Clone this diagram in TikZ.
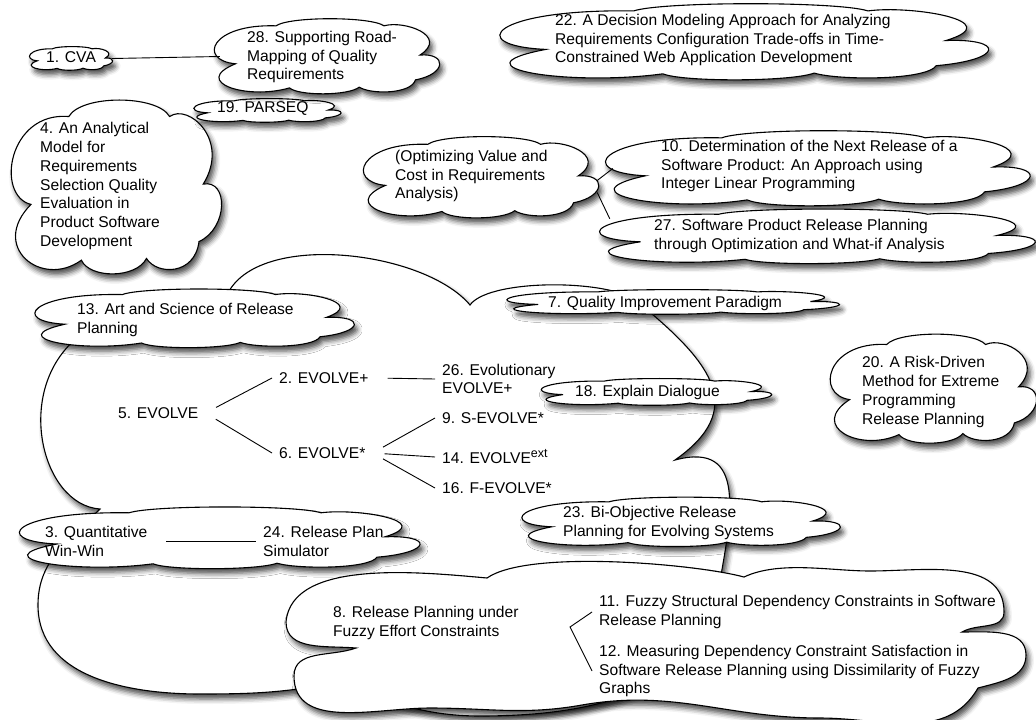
\documentclass[tikz,border=0pt]{standalone}
\usepackage{fontspec}
\setmainfont{Liberation Sans}
\usetikzlibrary{shadows.blur}

\tikzset{
  group/.style={draw, line width=1.1pt, fill=white,
    blur shadow={shadow xshift=3pt, shadow yshift=-5pt, shadow blur radius=5pt, shadow opacity=70}},
  spot/.style 2 args={inner sep=0pt, minimum width=#1, minimum height=#2},
  pics/cloudy/.style n args={2}{code={
    \draw[group, x=#1pt, y=-#2pt, shift={(-0.5,-0.5)}] (0.10,0.60)
      .. controls (-0.07,0.55) and (-0.01,0.05) .. (0.28,0.08)
      .. controls (0.34,-0.05) and (0.70,-0.05) .. (0.76,0.08)
      .. controls (0.85,0.0) and (1.05,0.22) .. (0.92,0.48)
      .. controls (1.04,0.45) and (1.04,0.74) .. (0.90,0.82)
      .. controls (0.88,1.02) and (0.70,1.02) .. (0.65,0.92)
      .. controls (0.60,1.04) and (0.38,1.04) .. (0.34,0.93)
      .. controls (0.15,1.10) and (-0.10,0.85) .. cycle;
    \node[spot={#1}{#2}] (-box) {};
  }},
  caption/.style={font=\fontsize{15.6}{18.8}\selectfont, align=left, inner sep=0pt},
  entry/.style={caption, inner xsep=7pt},
  link/.style={line width=0.9pt},
  branch/.style={link, shorten <=12pt}
}

\begin{document}
\begin{tikzpicture}[x=1pt,y=-1pt]
\useasboundingbox (0,0) rectangle (1036,720);

% upper left corner
\pic (paper4) at (115,187.5) {cloudy={210}{169}};
\node[caption, anchor=west] (t4) at (40,186) {4. An Analytical\\Model for\\Requirements\\Selection Quality\\Evaluation in\\Product Software\\Development};
\pic (paper19) at (266.5,110.5) {cloudy={147}{23}};
\node[caption, anchor=west] (t19) at (217,109) {19. PARSEQ};
\pic (paper1) at (70.5,58.5) {cloudy={83}{23}};
\node[caption, anchor=west] (t1) at (46,57) {1. CVA};
\pic (paper28) at (325.5,56.5) {cloudy={225}{73}};
\node[caption, anchor=west] (t28) at (247,57) {28. Supporting Road-\\Mapping of Quality\\Requirements};
\draw[link] (paper1-box.east) -- ([xshift=7pt]paper28-box.west);

% upper right corner
\pic (paper22) at (741,42) {cloudy={488}{74}};
\node[caption, anchor=west] (t22) at (555,40) {22. A Decision Modeling Approach for Analyzing\\Requirements Configuration Trade-offs in Time-\\Constrained Web Application Development};
\pic (paperopt) at (479.5,177.5) {cloudy={235}{79}};
\node[caption, anchor=west] (topt) at (395,176) {(Optimizing Value and\\Cost in Requirements\\Analysis)};
\pic (paper10) at (815,168.5) {cloudy={424}{73}};
\node[caption, anchor=west] (t10) at (661,166) {10. Determination of the Next Release of a\\Software Product: An Approach using\\Integer Linear Programming};
\pic (paper27) at (814.5,236.5) {cloudy={435}{53}};
\node[caption, anchor=west] (t27) at (654,236) {27. Software Product Release Planning\\through Optimization and What-if Analysis};
\draw[link] ([yshift=-3pt]paperopt-box.east) -- ([xshift=10pt]paper10-box.west);
\draw[link] ([yshift=-15pt]paperopt-box.east) -- ([xshift=13pt,yshift=-9pt]paper27-box.north west);
\pic (paper20) at (932,389) {cloudy={206}{106}};
\node[caption, anchor=west] (t20) at (862,392) {20. A Risk-Driven\\Method for Extreme\\Programming\\Release Planning};

% the EVOLVE family
\draw[group] (82,334) -- (227,295)
  to[out=65,in=130,looseness=0.75] (470,305)
  to[out=55,in=120,looseness=0.5] (645,308)
  to[out=-40,in=35,looseness=1.45] (675,460)
  to[out=15,in=80,looseness=1.4] (718,592)
  to[out=-100,in=0] (480,716)
  to[out=180,in=-15] (330,684)
  to[out=190,in=0] (200,694)
  to[out=180,in=270] (38,605)
  to[out=90,in=225] (100,509)
  .. controls (40,505) and (12,385) .. cycle;

% the fuzzy family
\draw[group] (356,648)
  to[out=175,in=270] (286,622)
  to[out=85,in=175,looseness=0.8] (487,578)
  to[out=35,in=165,looseness=0.5] (744,577)
  to[out=25,in=180,looseness=0.8] (870,571)
  to[out=0,in=90] (1004,612)
  to[out=270,in=30] (962,632)
  to[out=0,in=90] (1026,655)
  to[out=270,in=15] (978,688)
  to[out=240,in=0] (820,718)
  to[out=180,in=10] (582,705)
  to[out=190,in=0] (430,708)
  to[out=180,in=270] (294,676)
  to[out=90,in=200] cycle;

\pic (paper13) at (192.5,318.5) {cloudy={319}{57}};
\node[caption, anchor=west] (t13) at (77,320) {13. Art and Science of Release\\Planning};
\pic (paper7) at (671,302) {cloudy={332}{24}};
\node[caption, anchor=west] (t7) at (548,303) {7. Quality Improvement Paradigm};
\pic (paper18) at (655,392) {cloudy={230}{26}};
\node[caption, anchor=west] (t18) at (575,392) {18. Explain Dialogue};
\pic (paper23) at (679,522) {cloudy={318}{48}};
\node[caption, anchor=west] (t23) at (563,523) {23. Bi-Objective Release\\Planning for Evolving Systems};
\pic (paper3) at (217,538) {cloudy={400}{60}};

\node[entry, anchor=west] (t3) at (38,541.5) {3. Quantitative\\Win-Win};
\node[entry, anchor=west] (t24) at (256,541.5) {24. Release Plan\\Simulator};
\draw[branch] (t3.east) -- (t24.west);

\node[entry, anchor=west] (t5) at (111,413) {5. EVOLVE};
\node[entry, anchor=west] (t2) at (272,378) {2. EVOLVE+};
\node[entry, anchor=west] (t6) at (272,453) {6. EVOLVE*};
\node[entry, anchor=west] (t26) at (435,379) {26. Evolutionary\\EVOLVE+};
\node[entry, anchor=west] (t9) at (435,418) {9. S-EVOLVE*};
\node[entry, anchor=west] (t14) at (435,457) {14. EVOLVE\raisebox{6pt}{\fontsize{12.5}{13}\selectfont ext}};
\node[entry, anchor=west] (t16) at (435,488) {16. F-EVOLVE*};
\draw[branch] (t5.east) -- (t2.west);
\draw[branch] (t5.east) -- (t6.west);
\draw[branch] (t2.east) -- (t26.west);
\draw[branch] (t6.east) -- (t9.west);
\draw[branch] (t6.east) -- (t14.west);
\draw[branch] (t6.east) -- (t16.west);

\node[entry, anchor=west] (t8) at (326,623) {8. Release Planning under\\Fuzzy Effort Constraints};
\node[entry, anchor=west] (t11) at (592,612) {11. Fuzzy Structural Dependency Constraints in Software\\Release Planning};
\node[entry, anchor=west] (t12) at (592,671) {12. Measuring Dependency Constraint Satisfaction in\\Software Release Planning using Dissimilarity of Fuzzy\\Graphs};
\coordinate (fork8) at (570,627);
\draw[link] (t11.west) -- (fork8) -- (t12.west);
\end{tikzpicture}
\end{document}
